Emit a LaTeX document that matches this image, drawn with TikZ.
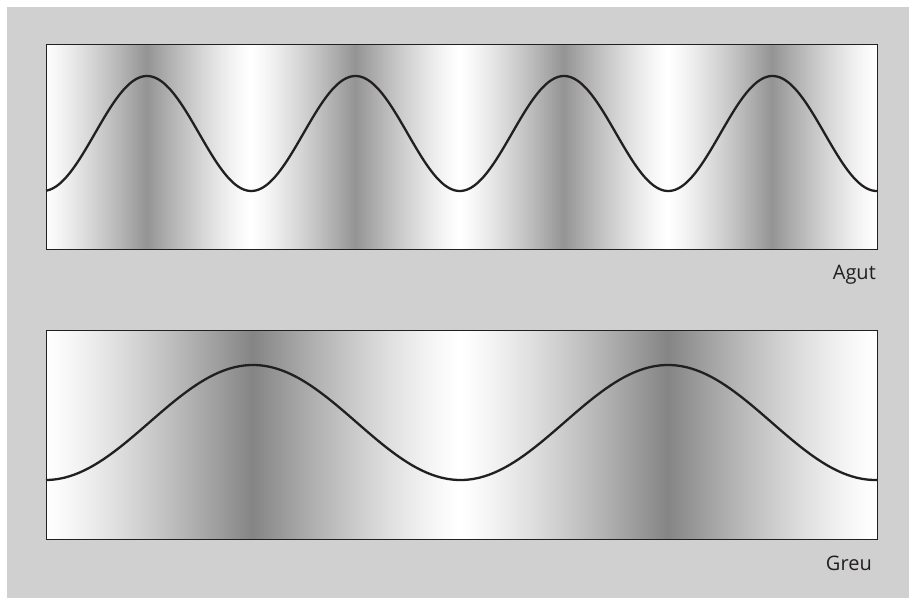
\documentclass[tikz,border=0pt]{standalone}
\usepackage{fontspec}
\setmainfont{Open Sans}
\definecolor{bggray}{HTML}{D0D0D0}
\definecolor{inkc}{HTML}{231F20}
\tikzset{
  panelbox/.style={draw=inkc, line width=1.4bp, inner sep=0pt, anchor=north west},
  wave/.style={draw=inkc, line width=2.3bp, line join=round},
  lbl/.style={font=\fontsize{20bp}{24bp}\selectfont, text=inkc, inner sep=0pt}
}
\begin{document}
\begin{tikzpicture}[x=1bp,y=-1bp]
\useasboundingbox (0,0) rectangle (909,598);
\fill[white] (0,0) rectangle (909,598);
\fill[bggray] (7,7) rectangle (909,598);
% top shading (period 208.5, dark at 147)
\begin{scope}
\clip (46,44) rectangle (877,249);
\foreach \i in {46,...,876} {
  \pgfmathsetmacro\dd{mod(abs(\i+0.5-147)+104.25,208.5)-104.25}
  \pgfmathsetmacro\tt{1-abs(\dd)/104.25}
  \pgfmathsetmacro\pp{42*\tt*sqrt(sqrt(\tt))}
  \fill[black!\pp] (\i,44) rectangle (\i+1.4,249);
}
\end{scope}
% bottom shading (period 415, dark at 253)
\begin{scope}
\clip (46,330) rectangle (877,539);
\foreach \i in {46,...,876} {
  \pgfmathsetmacro\dd{mod(abs(\i+0.5-253)+207.5,415)-207.5}
  \pgfmathsetmacro\tt{1-abs(\dd)/207.5}
  \pgfmathsetmacro\pp{48*\tt*sqrt(sqrt(\tt))}
  \fill[black!\pp] (\i,330) rectangle (\i+1.4,539);
}
\end{scope}
\node[panelbox, minimum width=831bp, minimum height=205bp] (toppanel) at (46,44) {};
\node[panelbox, minimum width=831bp, minimum height=209bp] (botpanel) at (46,330) {};
\draw[wave] plot[domain=46:877, samples=400] (\x, {133.5-57.5*cos(1.72662*(\x-147))});
\draw[wave] plot[domain=46:877, samples=400] (\x, {422.5-57.5*cos(0.86747*(\x-253))});
\node[lbl, anchor=base east] (agut) at (876,279) {Agut};
\node[lbl, anchor=base east] (greu) at (872,570) {Greu};
\end{tikzpicture}
\end{document}
